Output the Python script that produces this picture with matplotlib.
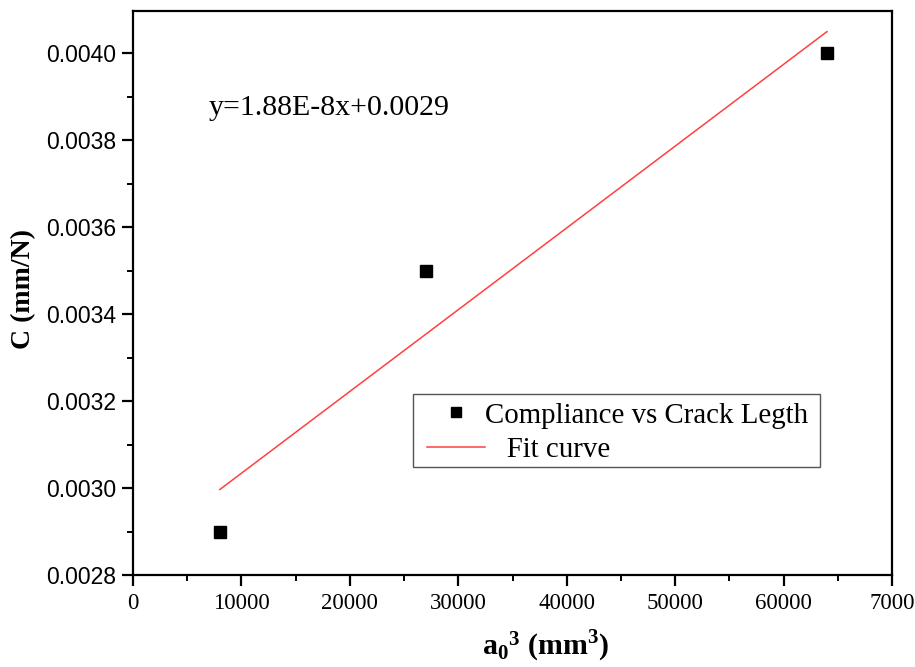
import matplotlib
matplotlib.use('Agg')
import matplotlib.pyplot as plt
from matplotlib.patches import Rectangle
from matplotlib.ticker import MultipleLocator
import numpy as np

plt.rcParams['mathtext.fontset'] = 'custom'
plt.rcParams['mathtext.rm'] = 'Liberation Serif'
plt.rcParams['mathtext.bf'] = 'Liberation Serif:bold'

# data: crack length cubed vs compliance
a0_cubed = [8000, 27000, 64000]
compliance = [0.0029, 0.0035, 0.0040]
eq_text = 'y=1.88E-8x+0.0029'
x_ticks = [0, 10000, 20000, 30000, 40000, 50000, 60000, 70000]
x_ticklabels = ['0', '10000', '20000', '30000', '40000', '50000', '60000', '7000']
y_ticks = [0.0028, 0.0030, 0.0032, 0.0034, 0.0036, 0.0038, 0.0040]

slope, intercept = np.polyfit(a0_cubed, compliance, 1)
xfit = np.array([min(a0_cubed), max(a0_cubed)])
yfit = slope * xfit + intercept

fig = plt.figure(figsize=(9.15, 6.67), dpi=100)
ax = fig.add_axes([0.1454, 0.1379, 0.8295, 0.8456])

ax.plot(a0_cubed, compliance, 's', color='black', markersize=8.5,
        linestyle='none', label='Compliance vs Crack Legth')
ax.plot(xfit, yfit, color='#ff4040', lw=1.1, label='   Fit curve')

ax.set_xlim(0, 70000)
ax.set_ylim(0.0028, 0.004097)
ax.set_xticks(x_ticks)
ax.set_xticklabels(x_ticklabels, fontfamily='Liberation Serif', fontsize=16.5)
ax.set_yticks(y_ticks)
ax.set_yticklabels(['%.4f' % v for v in y_ticks], fontfamily='Liberation Sans', fontsize=16.5)
ax.xaxis.set_minor_locator(MultipleLocator(5000))
ax.yaxis.set_minor_locator(MultipleLocator(0.0001))

for s in ax.spines.values():
    s.set_linewidth(1.6)
ax.tick_params(which='major', direction='out', length=8, width=1.6)
ax.tick_params(which='minor', direction='out', length=4, width=1.4)
ax.tick_params(axis='x', which='major', pad=5)
ax.tick_params(axis='y', which='major', pad=4)

ax.set_xlabel(r'$\mathbf{{a_0}^{3}}$ (mm$^\mathbf{3}$)', fontfamily='Liberation Serif',
              fontweight='bold', fontsize=21.5)
ax.xaxis.set_label_coords(0.544, -0.093)
ax.set_ylabel('C (mm/N)', fontfamily='Liberation Serif', fontweight='bold', fontsize=20)
ax.yaxis.set_label_coords(-0.128, 0.507)

ax.text(0.099, 0.828, eq_text, transform=ax.transAxes, fontfamily='Liberation Serif',
        fontsize=21.5, va='center', ha='left')

# legend box drawn separately, Origin-style offsets
ax.add_patch(Rectangle((0.4514, 0.2999), 0.4448, 0.1094, transform=fig.transFigure,
                       facecolor='white', edgecolor='#555555', lw=1.0, zorder=4,
                       clip_on=False))
leg = ax.legend(loc='upper left', bbox_to_anchor=(0.4667, 0.3968),
                bbox_transform=fig.transFigure, frameon=False,
                prop={'family': 'Liberation Serif', 'size': 20.8},
                borderpad=0, labelspacing=0.3, handlelength=2.0,
                handletextpad=0.0, borderaxespad=0, markerscale=0.85)
leg.set_zorder(6)

fig.savefig('out.png', dpi=100)
